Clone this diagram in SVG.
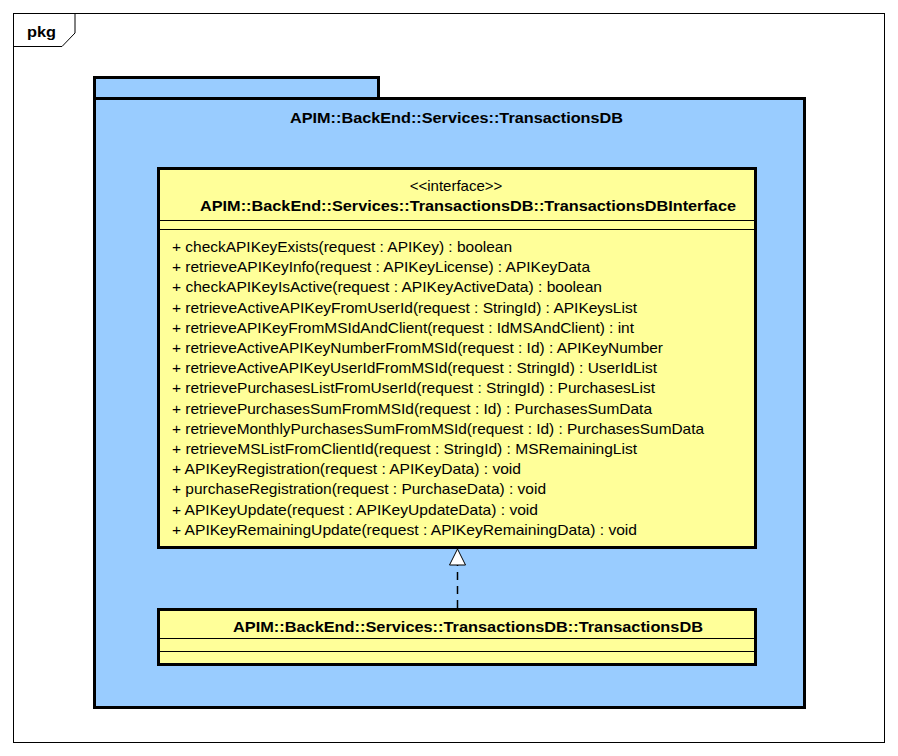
<svg xmlns="http://www.w3.org/2000/svg" width="898" height="756" viewBox="0 0 898 756">
<style>
text{font-family:"Liberation Sans",Arial,sans-serif;font-size:15px;fill:#000}
.b{font-weight:bold}
.thin{fill:none;stroke:#000;stroke-width:1}
.cls{fill:#FFFF99;stroke:#000;stroke-width:3}
.pkg{fill:#99CCFF;stroke:#000;stroke-width:3}
</style>
<rect width="898" height="756" fill="#fff"/>
<g id="frame">
<rect x="13.5" y="13.5" width="871" height="729" class="thin"/>
<path d="M13.5 46.5 H62 L75 33 V13.5" class="thin"/>
<text x="27" y="37" class="b" textLength="29" lengthAdjust="spacingAndGlyphs">pkg</text>
</g>
<g id="package">
<rect x="94.5" y="77.5" width="284" height="21" class="pkg"/>
<rect x="94.5" y="98.5" width="710" height="609" class="pkg"/>
<text x="290" y="123" class="b" textLength="333" lengthAdjust="spacingAndGlyphs">APIM::BackEnd::Services::TransactionsDB</text>
</g>
<g id="interface">
<rect x="158.5" y="168.5" width="597" height="379" class="cls"/>
<text x="456" y="191" text-anchor="middle">&lt;&lt;interface&gt;&gt;</text>
<text x="200" y="211" class="b" textLength="536" lengthAdjust="spacingAndGlyphs">APIM::BackEnd::Services::TransactionsDB::TransactionsDBInterface</text>
<line x1="158" y1="220.5" x2="756" y2="220.5" class="thin"/>
<line x1="158" y1="229.5" x2="756" y2="229.5" class="thin"/>
<g>
<text x="172" y="252" textLength="340" lengthAdjust="spacingAndGlyphs">+ checkAPIKeyExists(request : APIKey) : boolean</text>
<text x="172" y="272.2" textLength="418" lengthAdjust="spacingAndGlyphs">+ retrieveAPIKeyInfo(request : APIKeyLicense) : APIKeyData</text>
<text x="172" y="292.4" textLength="430" lengthAdjust="spacingAndGlyphs">+ checkAPIKeyIsActive(request : APIKeyActiveData) : boolean</text>
<text x="172" y="312.6" textLength="465" lengthAdjust="spacingAndGlyphs">+ retrieveActiveAPIKeyFromUserId(request : StringId) : APIKeysList</text>
<text x="172" y="332.8" textLength="462" lengthAdjust="spacingAndGlyphs">+ retrieveAPIKeyFromMSIdAndClient(request : IdMSAndClient) : int</text>
<text x="172" y="353" textLength="491" lengthAdjust="spacingAndGlyphs">+ retrieveActiveAPIKeyNumberFromMSId(request : Id) : APIKeyNumber</text>
<text x="172" y="373.2" textLength="485" lengthAdjust="spacingAndGlyphs">+ retrieveActiveAPIKeyUserIdFromMSId(request : StringId) : UserIdList</text>
<text x="172" y="393.4" textLength="483" lengthAdjust="spacingAndGlyphs">+ retrievePurchasesListFromUserId(request : StringId) : PurchasesList</text>
<text x="172" y="413.6" textLength="480" lengthAdjust="spacingAndGlyphs">+ retrievePurchasesSumFromMSId(request : Id) : PurchasesSumData</text>
<text x="172" y="433.8" textLength="532" lengthAdjust="spacingAndGlyphs">+ retrieveMonthlyPurchasesSumFromMSId(request : Id) : PurchasesSumData</text>
<text x="172" y="454" textLength="465" lengthAdjust="spacingAndGlyphs">+ retrieveMSListFromClientId(request : StringId) : MSRemainingList</text>
<text x="172" y="474.2" textLength="349" lengthAdjust="spacingAndGlyphs">+ APIKeyRegistration(request : APIKeyData) : void</text>
<text x="172" y="494.4" textLength="374" lengthAdjust="spacingAndGlyphs">+ purchaseRegistration(request : PurchaseData) : void</text>
<text x="172" y="514.6" textLength="366" lengthAdjust="spacingAndGlyphs">+ APIKeyUpdate(request : APIKeyUpdateData) : void</text>
<text x="172" y="534.8" textLength="465" lengthAdjust="spacingAndGlyphs">+ APIKeyRemainingUpdate(request : APIKeyRemainingData) : void</text>
</g>
</g>
<g id="connectors">
<line x1="457.5" y1="608" x2="457.5" y2="565" stroke="#000" stroke-width="1.5" stroke-dasharray="8,6"/>
<path d="M457.5 549 L465.5 565 H449.5 Z" fill="#fff" stroke="#000" stroke-width="1"/>
</g>
<g id="impl">
<rect x="158.5" y="609.5" width="597" height="55" class="cls"/>
<text x="233" y="632" class="b" textLength="470" lengthAdjust="spacingAndGlyphs">APIM::BackEnd::Services::TransactionsDB::TransactionsDB</text>
<line x1="158" y1="638.5" x2="756" y2="638.5" class="thin"/>
<line x1="158" y1="651.5" x2="756" y2="651.5" class="thin"/>
</g>
</svg>
